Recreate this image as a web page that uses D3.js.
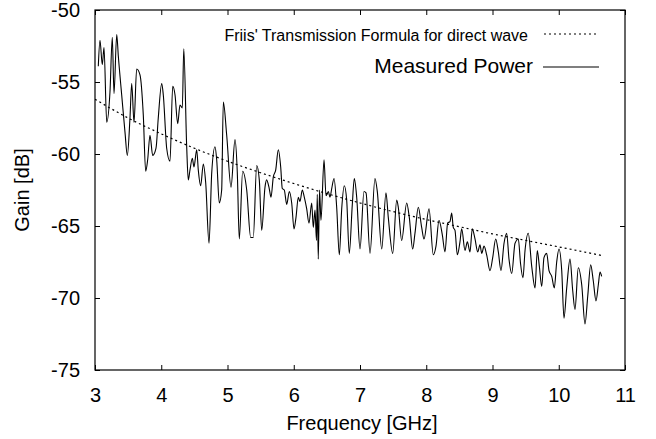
<!DOCTYPE html>
<html>
<head>
<meta charset="utf-8">
<script src="https://cdn.jsdelivr.net/npm/d3@7"></script>
<style>
  html, body { margin: 0; padding: 0; background: #fff; }
  svg { display: block; }
  text { font-family: "Liberation Sans", Arial, Helvetica, sans-serif; fill: #000; }
</style>
</head>
<body>
<svg id="chart" width="656" height="439"></svg>
<script>
// ---------------- data ----------------
const xTicks = [3, 4, 5, 6, 7, 8, 9, 10, 11];
const yTicks = [-75, -70, -65, -60, -55, -50];
const xLabel = "Frequency [GHz]";
const yLabel = "Gain [dB]";
const seriesNames = ["Friis' Transmission Formula for direct wave", "Measured Power"];

// Friis' formula (dashed curve)
const friisFreq = [3, 3.5, 4, 4.5, 5, 5.5, 6, 6.5, 7, 7.5, 8, 8.5, 9, 9.5, 10, 10.65];
const friisGain = [-56.2, -57.5, -58.6, -59.6, -60.5, -61.3, -62.05, -62.75, -63.4, -64.0, -64.55, -65.05, -65.55, -66.0, -66.45, -67.05];

// Measured power (solid curve)
const measFreq = [
  3.050, 3.075, 3.110, 3.136, 3.177, 3.226, 3.261, 3.287, 3.328, 3.352,
  3.403, 3.453, 3.488, 3.528, 3.554, 3.589, 3.629, 3.679, 3.729, 3.765,
  3.795, 3.830, 3.871, 3.921, 3.955, 4.007, 4.031, 4.082, 4.132, 4.173,
  4.208, 4.248, 4.283, 4.318, 4.340, 4.384, 4.408, 4.434, 4.469, 4.494,
  4.535, 4.559, 4.595, 4.635, 4.671, 4.721, 4.762, 4.811, 4.837, 4.876,
  4.912, 4.937, 4.988, 5.053, 5.113, 5.148, 5.178, 5.229, 5.290, 5.350,
  5.389, 5.441, 5.480, 5.516, 5.566, 5.590, 5.630, 5.657, 5.691, 5.728,
  5.767, 5.803, 5.827, 5.857, 5.894, 5.933, 5.969, 6.004, 6.034, 6.069,
  6.094, 6.129, 6.159, 6.195, 6.230, 6.271, 6.295, 6.321, 6.343, 6.355,
  6.370, 6.389, 6.411, 6.457, 6.487, 6.522, 6.547, 6.573, 6.608, 6.648,
  6.688, 6.724, 6.763, 6.799, 6.838, 6.884, 6.914, 6.950, 7.000, 7.060,
  7.091, 7.151, 7.226, 7.261, 7.328, 7.392, 7.427, 7.494, 7.554, 7.578,
  7.629, 7.705, 7.744, 7.795, 7.830, 7.880, 7.931, 7.966, 8.042, 8.106,
  8.147, 8.192, 8.242, 8.283, 8.323, 8.358, 8.384, 8.408, 8.434, 8.469,
  8.509, 8.535, 8.585, 8.620, 8.660, 8.695, 8.736, 8.777, 8.811, 8.837,
  8.872, 8.912, 8.962, 9.003, 9.048, 9.088, 9.128, 9.174, 9.214, 9.249,
  9.290, 9.340, 9.390, 9.423, 9.460, 9.491, 9.540, 9.592, 9.642, 9.676,
  9.707, 9.743, 9.777, 9.818, 9.853, 9.894, 9.933, 9.969, 10.004, 10.045,
  10.079, 10.120, 10.170, 10.211, 10.245, 10.295, 10.347, 10.396, 10.437, 10.482,
  10.521, 10.562, 10.597, 10.623, 10.648
];
const measGain = [
  -53.9, -52.1, -53.8, -52.6, -57.8, -55.7, -51.9, -55.8, -51.7, -53.2,
  -55.9, -58.5, -60.1, -57.5, -55.1, -57.8, -54.1, -54.5, -57.3, -61.2,
  -60.4, -58.7, -60.1, -59.6, -57.5, -55.1, -55.9, -59.6, -60.5, -55.3,
  -55.9, -57.9, -56.6, -56.8, -52.7, -59.5, -61.8, -61.1, -60.3, -60.9,
  -59.7, -61.1, -62.2, -60.7, -62.0, -66.2, -61.3, -59.5, -60.4, -63.4,
  -62.5, -56.4, -58.7, -62.3, -59.0, -61.3, -65.9, -61.2, -62.5, -65.8,
  -65.8, -60.8, -61.8, -65.3, -62.3, -61.8, -62.4, -63.0, -61.6, -61.1,
  -59.7, -60.9, -62.4, -62.5, -63.5, -62.6, -63.4, -65.2, -64.4, -63.0,
  -63.3, -62.5, -63.0, -63.8, -64.8, -63.4, -65.1, -63.9, -66.0, -62.8,
  -67.3, -62.5, -64.6, -60.4, -62.9, -62.6, -63.0, -62.4, -61.7, -63.7,
  -67.0, -63.8, -62.2, -63.2, -66.9, -63.5, -61.7, -63.0, -66.6, -62.6,
  -62.7, -66.9, -61.7, -62.6, -66.6, -62.7, -64.4, -66.9, -63.2, -63.7,
  -66.0, -63.4, -64.4, -66.6, -65.5, -63.7, -65.1, -65.9, -63.8, -67.0,
  -66.4, -64.6, -65.6, -66.8, -64.8, -64.7, -64.1, -65.1, -65.3, -67.0,
  -66.1, -65.2, -66.7, -66.1, -66.8, -65.2, -65.9, -66.8, -66.3, -66.9,
  -66.4, -67.0, -68.1, -67.2, -65.9, -66.8, -68.1, -66.2, -65.5, -67.3,
  -68.3, -66.2, -65.9, -67.6, -68.6, -66.7, -65.5, -67.8, -69.3, -66.7,
  -67.8, -69.2, -67.2, -66.9, -68.1, -68.5, -69.3, -67.5, -66.6, -68.1,
  -71.4, -69.3, -67.3, -69.5, -70.8, -67.9, -69.1, -71.8, -69.9, -67.7,
  -68.8, -70.2, -69.1, -68.2, -68.5
];

// ---------------- layout ----------------
const svg = d3.select("#chart");
const mLeft = 95, mRight = 625, mTop = 10, mBottom = 370;

const x = d3.scaleLinear().domain([3, 11]).range([mLeft, mRight]);
const y = d3.scaleLinear().domain([-75, -50]).range([mBottom, mTop]);

svg.append("defs").append("clipPath").attr("id", "clip")
  .append("rect").attr("x", mLeft).attr("y", mTop)
  .attr("width", mRight - mLeft).attr("height", mBottom - mTop);

const tickLen = 5;
const fmt = d => String(d);   // plain hyphen-minus like the original

const gB = svg.append("g").attr("transform", `translate(0,${mBottom})`)
  .call(d3.axisBottom(x).tickValues(xTicks).tickSize(-tickLen).tickPadding(18).tickFormat(fmt));
const gT = svg.append("g").attr("transform", `translate(0,${mTop})`)
  .call(d3.axisTop(x).tickValues(xTicks).tickSize(-tickLen).tickFormat(""));
const gL = svg.append("g").attr("transform", `translate(${mLeft},0)`)
  .call(d3.axisLeft(y).tickValues(yTicks).tickSize(-tickLen).tickPadding(15).tickFormat(fmt));
const gR = svg.append("g").attr("transform", `translate(${mRight},0)`)
  .call(d3.axisRight(y).tickValues(yTicks).tickSize(-tickLen).tickFormat(""));

[gB, gT, gL, gR].forEach(g => {
  g.select(".domain").remove();
  g.selectAll(".tick line").attr("stroke", "#000").attr("stroke-width", 1);
  g.selectAll("text").attr("font-size", 20).attr("fill", "#000")
    .style("font-family", '"Liberation Sans", Arial, sans-serif');
});

svg.append("rect").attr("x", mLeft).attr("y", mTop)
  .attr("width", mRight - mLeft).attr("height", mBottom - mTop)
  .attr("fill", "none").attr("stroke", "#000").attr("stroke-width", 1.2);

svg.append("text").attr("x", 362).attr("y", 430)
  .attr("text-anchor", "middle").attr("font-size", 20).text(xLabel);
svg.append("text").attr("transform", `translate(29,${(mTop + mBottom) / 2}) rotate(-90)`)
  .attr("text-anchor", "middle").attr("font-size", 20).text(yLabel);

const plot = svg.append("g").attr("clip-path", "url(#clip)");

const friisData = friisFreq.map((f, i) => [f, friisGain[i]]);
const measData = measFreq.map((f, i) => [f, measGain[i]]);

const lineGen = d3.line().x(d => x(d[0])).y(d => y(d[1])).curve(d3.curveMonotoneX);

plot.append("path")
  .attr("d", lineGen(friisData))
  .attr("fill", "none").attr("stroke", "#000").attr("stroke-width", 1.2)
  .attr("stroke-dasharray", "2,3");

plot.append("path")
  .attr("d", lineGen(measData))
  .attr("fill", "none").attr("stroke", "#000").attr("stroke-width", 1.1);

const legend = svg.append("g");
legend.append("text").attr("x", 528).attr("y", 41).attr("text-anchor", "end")
  .attr("font-size", 16).text(seriesNames[0]);
legend.append("line").attr("x1", 544).attr("x2", 599).attr("y1", 34).attr("y2", 34)
  .attr("stroke", "#000").attr("stroke-width", 1.2).attr("stroke-dasharray", "2,3");
legend.append("text").attr("x", 533).attr("y", 73).attr("text-anchor", "end")
  .attr("font-size", 21).text(seriesNames[1]);
legend.append("line").attr("x1", 543).attr("x2", 599).attr("y1", 67).attr("y2", 67)
  .attr("stroke", "#000").attr("stroke-width", 1.1);
</script>
</body>
</html>
